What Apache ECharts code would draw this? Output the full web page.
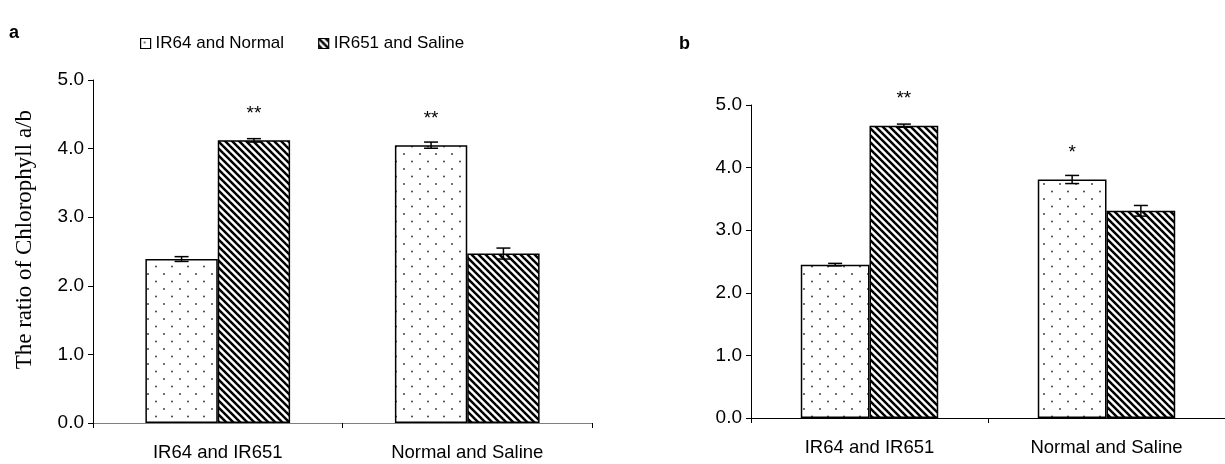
<!DOCTYPE html>
<html>
<head>
<meta charset="utf-8">
<script src="https://cdn.jsdelivr.net/npm/echarts@6/dist/echarts.min.js"></script>
<style>
  html, body { margin: 0; padding: 0; background: #fff; }
  #chart { width: 1225px; height: 464px; }
</style>
</head>
<body>
<div id="chart"></div>
<script>
// categories and tick labels
const categories = ['IR64 and IR651', 'Normal and Saline']
const yTicks = [0, 1, 2, 3, 4, 5]
const legendNames = ['IR64 and Normal', 'IR651 and Saline']

// panel a
const aFirst = [2.39, 4.05]
const aFirstErr = [0.035, 0.045]
const aFirstSig = ['', '**']
const aSecond = [4.12, 2.47]
const aSecondErr = [0.025, 0.08]
const aSecondSig = ['**', '']

// panel b
const bFirst = [2.45, 3.81]
const bFirstErr = [0.02, 0.065]
const bFirstSig = ['', '*']
const bSecond = [4.67, 3.31]
const bSecondErr = [0.025, 0.085]
const bSecondSig = ['**', '']

const sans = 'Liberation Sans'
const gapRatio = 0.42

// fill patterns
function dotPattern () {
    const c = document.createElement('canvas')
    c.width = 16
    c.height = 15
    const ctx = c.getContext('2d')
    ctx.fillStyle = '#fff'
    ctx.fillRect(0, 0, 16, 15)
    ctx.fillStyle = '#444'
    ;[[4, 4], [12, 11.5]].forEach(([x, y]) => {
        ctx.beginPath()
        ctx.arc(x, y, 1, 0, Math.PI * 2)
        ctx.fill()
    })
    return { image: c, repeat: 'repeat' }
}

function stripePattern () {
    const s = 7
    const c = document.createElement('canvas')
    c.width = s
    c.height = s
    const ctx = c.getContext('2d')
    ctx.fillStyle = '#fff'
    ctx.fillRect(0, 0, s, s)
    ctx.strokeStyle = '#000'
    ctx.lineWidth = 2.5
    ;[-s, 0, s].forEach(k => {
        ctx.beginPath()
        ctx.moveTo(k - 1, -1)
        ctx.lineTo(k + s + 1, s + 1)
        ctx.stroke()
    })
    return { image: c, repeat: 'repeat' }
}

const dots = dotPattern()
const stripes = stripePattern()

function barSeries (name, idx, values, sigs, fill) {
    return {
        name,
        type: 'bar',
        xAxisIndex: idx,
        yAxisIndex: idx,
        barGap: 0,
        barCategoryGap: (gapRatio * 100) + '%',
        itemStyle: { color: fill, borderColor: '#000', borderWidth: 1.5 },
        data: values.map((v, i) => ({
            value: v,
            label: {
                show: sigs[i] !== '',
                formatter: sigs[i],
                position: 'top',
                distance: 17,
                color: '#000',
                fontFamily: sans,
                fontSize: 19
            }
        }))
    }
}

function errorSeries (idx, values, errs, side) {
    return {
        type: 'custom',
        xAxisIndex: idx,
        yAxisIndex: idx,
        z: 5,
        silent: true,
        data: values.map((v, i) => [i, v - errs[i], v + errs[i]]),
        renderItem: (params, api) => {
            const bw = api.size([1, 0])[0] * (1 - gapRatio) / 2
            const x = api.coord([api.value(0), 0])[0] + side * bw / 2
            const lo = api.coord([api.value(0), api.value(1)])[1]
            const hi = api.coord([api.value(0), api.value(2)])[1]
            const half = 7
            const st = { stroke: '#000', lineWidth: 1.5 }
            return {
                type: 'group',
                children: [
                    { type: 'line', shape: { x1: x, y1: hi, x2: x, y2: lo }, style: st },
                    { type: 'line', shape: { x1: x - half, y1: hi, x2: x + half, y2: hi }, style: st },
                    { type: 'line', shape: { x1: x - half, y1: lo, x2: x + half, y2: lo }, style: st }
                ]
            }
        }
    }
}

function xAxis (idx, lineColor) {
    return {
        type: 'category',
        gridIndex: idx,
        data: categories,
        axisLine: { lineStyle: { color: lineColor, width: 1 } },
        axisTick: { show: true, length: 5, lineStyle: { color: '#000' } },
        axisLabel: { color: '#000', fontFamily: sans, fontSize: 18.5, margin: 20 }
    }
}

function yAxis (idx) {
    return {
        type: 'value',
        gridIndex: idx,
        min: yTicks[0],
        max: yTicks[yTicks.length - 1],
        interval: 1,
        splitLine: { show: false },
        axisLine: { show: true, lineStyle: { color: '#000', width: 1 } },
        axisTick: { show: true, length: 5, lineStyle: { color: '#000' } },
        axisLabel: {
            color: '#000',
            fontFamily: sans,
            fontSize: 19,
            margin: 9,
            formatter: v => v.toFixed(1)
        }
    }
}

const chart = echarts.init(document.getElementById('chart'), null, { renderer: 'canvas' })

chart.setOption({
    animation: false,
    backgroundColor: '#fff',
    title: [
        { text: 'a', left: 9, top: 24, padding: 0, textStyle: { fontFamily: sans, fontSize: 18, fontWeight: 'bold', color: '#000' } },
        { text: 'b', left: 679, top: 35, padding: 0, textStyle: { fontFamily: sans, fontSize: 18, fontWeight: 'bold', color: '#000' } }
    ],
    legend: {
        data: legendNames,
        left: 135,
        top: 30,
        icon: 'rect',
        itemWidth: 10,
        itemHeight: 10,
        itemGap: 34,
        itemStyle: { borderColor: '#000', borderWidth: 1.2 },
        textStyle: { fontFamily: sans, fontSize: 17, color: '#000' }
    },
    graphic: [{
        type: 'text',
        left: 13,
        top: 110,
        rotation: Math.PI / 2,
        style: {
            text: 'The ratio of Chlorophyll a/b',
            font: '23px "Liberation Serif"',
            fill: '#000'
        }
    }],
    grid: [
        { left: 93, right: 633, top: 80, bottom: 41 },
        { left: 751, right: -5, top: 105, bottom: 46 }
    ],
    xAxis: [xAxis(0, '#808080'), xAxis(1, '#000')],
    yAxis: [yAxis(0), yAxis(1)],
    series: [
        barSeries(legendNames[0], 0, aFirst, aFirstSig, dots),
        barSeries(legendNames[1], 0, aSecond, aSecondSig, stripes),
        barSeries(legendNames[0], 1, bFirst, bFirstSig, dots),
        barSeries(legendNames[1], 1, bSecond, bSecondSig, stripes),
        errorSeries(0, aFirst, aFirstErr, -1),
        errorSeries(0, aSecond, aSecondErr, 1),
        errorSeries(1, bFirst, bFirstErr, -1),
        errorSeries(1, bSecond, bSecondErr, 1)
    ]
})
</script>
</body>
</html>
